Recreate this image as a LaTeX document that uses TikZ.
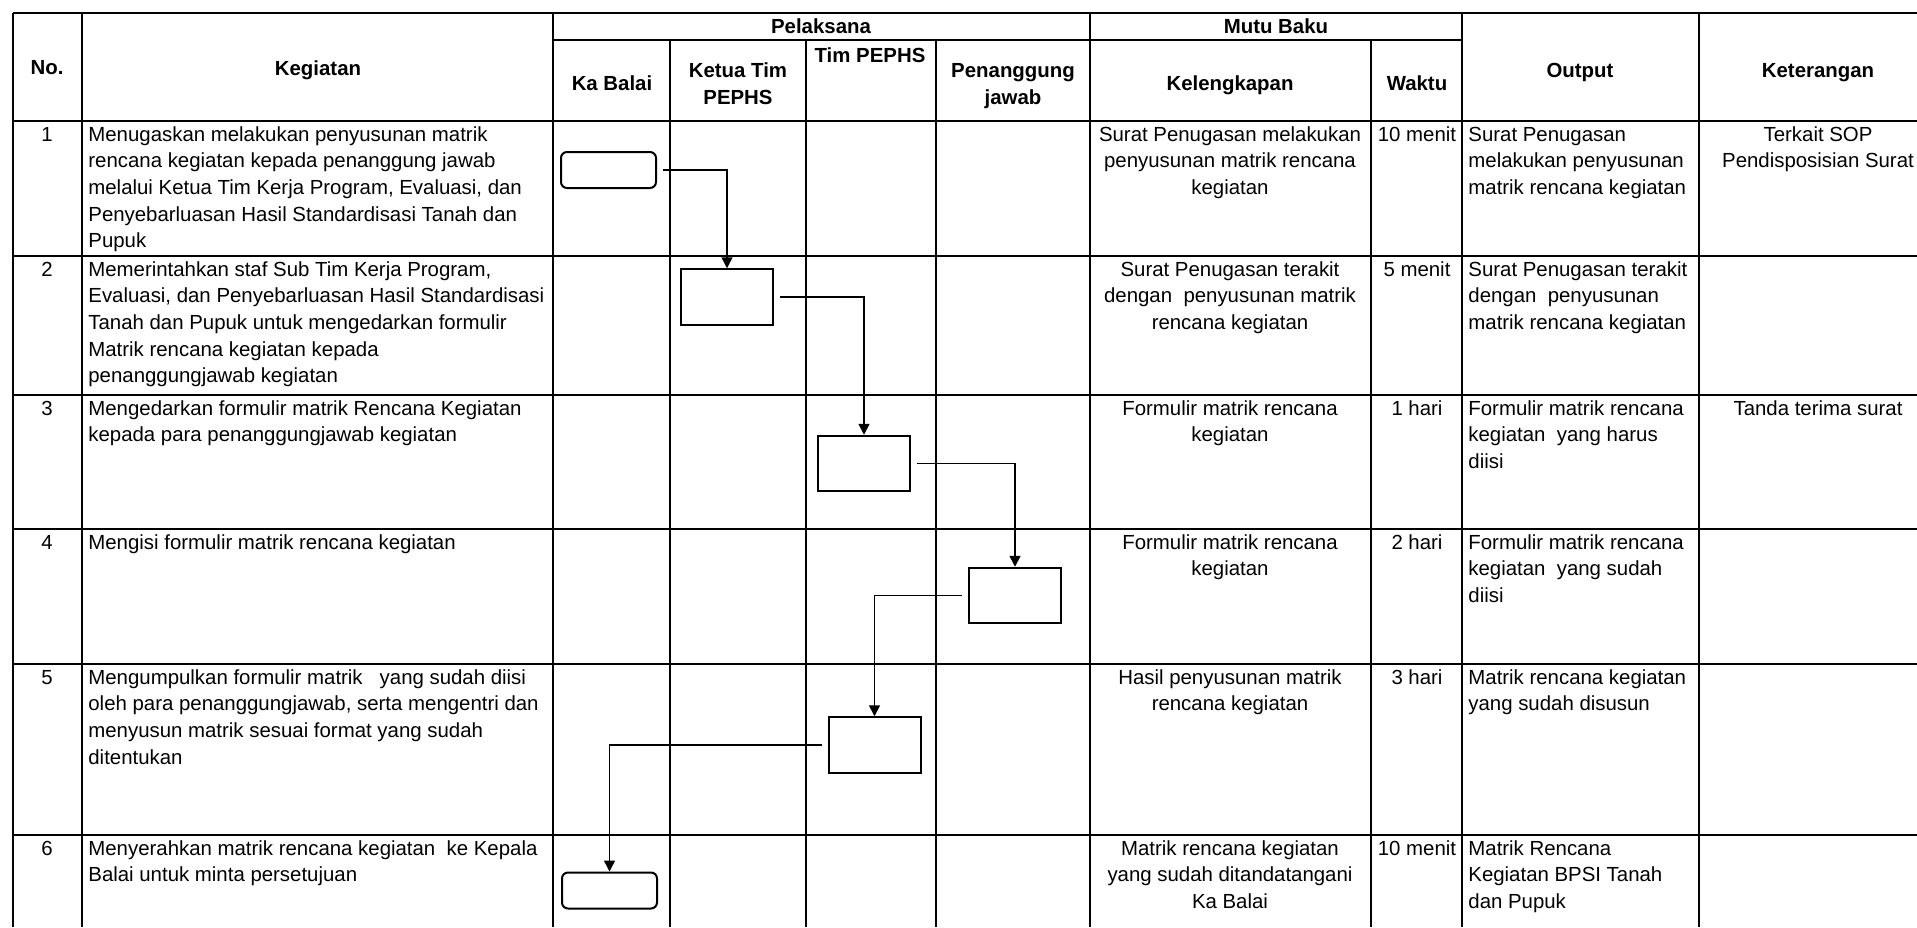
\documentclass[tikz,border=0pt]{standalone}
\usepackage{fontspec}
\setmainfont{Liberation Sans}
\usetikzlibrary{arrows.meta}
\begin{document}
\begin{tikzpicture}[x=0.5pt,y=-0.5pt,
  every node/.style={inner sep=0pt, font=\fontsize{10.2}{13.35}\selectfont},
  hd/.style={font=\fontsize{10.2}{13.5}\selectfont\bfseries, align=center, anchor=north},
  tl/.style={align=left, anchor=north west},
  tc/.style={align=center, anchor=north},
  gridline/.style={line width=1pt},
  rbox/.style={draw, line width=1pt, rounded corners=3pt, minimum width=47.5pt, minimum height=18pt},
  sbox/.style={draw, line width=1pt, minimum width=46pt, minimum height=27.75pt},
  arr/.style={line width=0.8pt, -{Triangle[length=5.5pt,width=5.5pt]}, shorten <=3pt}
]
\useasboundingbox (0,0) rectangle (1917,927);
\begin{scope}
\clip (0,0) rectangle (1917,927);
% horizontal lines
\draw[gridline] (13,13) -- (1917,13);
\draw[gridline] (553,40) -- (1462,40);
\foreach \yy in {121,256,395,529,664,835}
  \draw[gridline] (13,\yy) -- (1917,\yy);
% vertical lines
\foreach \xx in {13,82,553,1090,1462,1699}
  \draw[gridline] (\xx,13) -- (\xx,927);
\foreach \xx in {670,806,936,1371}
  \draw[gridline] (\xx,40) -- (\xx,927);
\end{scope}

% header
\node[hd] (hNo) at (47,55) {\strut No.};
\node[hd] (hKeg) at (318,56) {\strut Kegiatan};
\node[hd] (hPel) at (821,14.5) {\strut Pelaksana};
\node[hd] (hMutu) at (1276,14.5) {\strut Mutu Baku};
\node[hd] (hKa) at (612,71) {\strut Ka Balai};
\node[hd] (hKetua) at (738,58) {\strut Ketua Tim\\PEPHS};
\node[hd] (hTim) at (870,43) {\strut Tim PEPHS};
\node[hd] (hPj) at (1013,58) {\strut Penanggung\\jawab};
\node[hd] (hKel) at (1230,71) {\strut Kelengkapan};
\node[hd] (hWak) at (1417,71) {\strut Waktu};
\node[hd] (hOut) at (1580,58) {\strut Output};
\node[hd] (hKet) at (1818,58) {\strut Keterangan};

% numbers
\node[tc] (n1) at (47,122) {\strut 1};
\node[tc] (n2) at (47,257) {\strut 2};
\node[tc] (n3) at (47,396) {\strut 3};
\node[tc] (n4) at (47,530) {\strut 4};
\node[tc] (n5) at (47,665) {\strut 5};
\node[tc] (n6) at (47,836) {\strut 6};

% kegiatan
\node[tl] (k1) at (88,122) {\strut Menugaskan melakukan penyusunan matrik\\rencana kegiatan kepada penanggung jawab\\melalui Ketua Tim Kerja Program, Evaluasi, dan\\Penyebarluasan Hasil Standardisasi Tanah dan\\Pupuk};
\node[tl] (k2) at (88,257) {\strut Memerintahkan staf Sub Tim Kerja Program,\\Evaluasi, dan Penyebarluasan Hasil Standardisasi\\Tanah dan Pupuk untuk mengedarkan formulir\\Matrik rencana kegiatan kepada\\penanggungjawab kegiatan};
\node[tl] (k3) at (88,396) {\strut Mengedarkan formulir matrik Rencana Kegiatan\\kepada para penanggungjawab kegiatan};
\node[tl] (k4) at (88,530) {\strut Mengisi formulir matrik rencana kegiatan};
\node[tl] (k5) at (88,665) {\strut Mengumpulkan formulir matrik~~ yang sudah diisi\\oleh para penanggungjawab, serta mengentri dan\\menyusun matrik sesuai format yang sudah\\ditentukan};
\node[tl] (k6) at (88,836) {\strut Menyerahkan matrik rencana kegiatan~ ke Kepala\\Balai untuk minta persetujuan};

% kelengkapan
\node[tc] (m1) at (1230,122) {\strut Surat Penugasan melakukan\\penyusunan matrik rencana\\kegiatan};
\node[tc] (m2) at (1230,257) {\strut Surat Penugasan terakit\\dengan~ penyusunan matrik\\rencana kegiatan};
\node[tc] (m3) at (1230,396) {\strut Formulir matrik rencana\\kegiatan};
\node[tc] (m4) at (1230,530) {\strut Formulir matrik rencana\\kegiatan};
\node[tc] (m5) at (1230,665) {\strut Hasil penyusunan matrik\\rencana kegiatan};
\node[tc] (m6) at (1230,836) {\strut Matrik rencana kegiatan\\yang sudah ditandatangani\\Ka Balai};

% waktu
\node[tc] (w1) at (1417,122) {\strut 10 menit};
\node[tc] (w2) at (1417,257) {\strut 5 menit};
\node[tc] (w3) at (1417,396) {\strut 1 hari};
\node[tc] (w4) at (1417,530) {\strut 2 hari};
\node[tc] (w5) at (1417,665) {\strut 3 hari};
\node[tc] (w6) at (1417,836) {\strut 10 menit};

% output
\node[tl] (o1) at (1468,122) {\strut Surat Penugasan\\melakukan penyusunan\\matrik rencana kegiatan};
\node[tl] (o2) at (1468,257) {\strut Surat Penugasan terakit\\dengan~ penyusunan\\matrik rencana kegiatan};
\node[tl] (o3) at (1468,396) {\strut Formulir matrik rencana\\kegiatan~ yang harus\\diisi};
\node[tl] (o4) at (1468,530) {\strut Formulir matrik rencana\\kegiatan~ yang sudah\\diisi};
\node[tl] (o5) at (1468,665) {\strut Matrik rencana kegiatan\\yang sudah disusun};
\node[tl] (o6) at (1468,836) {\strut Matrik Rencana\\Kegiatan BPSI Tanah\\dan Pupuk};

% keterangan
\node[tc] (t1) at (1818,122) {\strut Terkait SOP\\Pendisposisian Surat};
\node[tc] (t3) at (1818,396) {\strut Tanda terima surat};

% flow boxes
\node[rbox] (b1) at (608.5,170) {};
\node[sbox] (b2) at (727,297) {};
\node[sbox] (b3) at (864,463.5) {};
\node[sbox] (b4) at (1015,595.5) {};
\node[sbox] (b5) at (874.5,745) {};
\node[rbox] (b6) at (609.5,890.5) {};

% connectors
\draw[arr] (b1.east) -| (b2.north);
\draw[arr] (b2.east) -| (b3.north);
\draw[arr] (b3.east) -| (b4.north);
\draw[arr] (b4.west) -| (b5.north);
\draw[arr] (b5.west) -| (b6.north);
\end{tikzpicture}
\end{document}
